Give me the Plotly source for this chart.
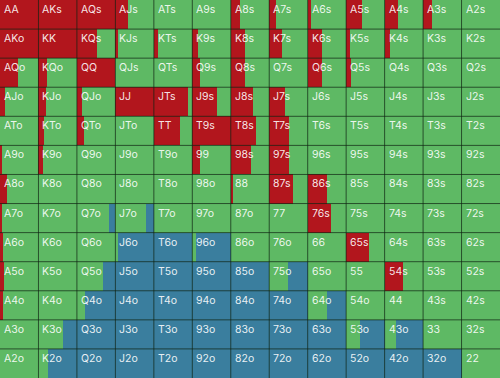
import plotly.graph_objects as go

ranks = ["A", "K", "Q", "J", "T", "9", "8", "7", "6", "5", "4", "3", "2"]

# raise (red) frequency per cell, rows = first rank, cols = second rank
raise_freq = [
    [1, 1, 1, 0.33, 0, 0, 0.24, 0.17, 0.08, 0.41, 0.35, 0.22, 0],
    [1, 1, 0.51, 0.08, 0.10, 0.14, 0.37, 0.32, 0.38, 0.10, 0.13, 0, 0],
    [0.48, 0.21, 1, 0, 0, 0.20, 0.37, 0, 0.36, 0.12, 0, 0, 0],
    [0.13, 0.19, 0.12, 1, 0.88, 0.63, 0.57, 0.41, 0, 0, 0, 0, 0],
    [0, 0.15, 0.18, 0, 0.68, 1, 0.65, 0.52, 0, 0, 0, 0, 0],
    [0.04, 0.11, 0, 0, 0, 0.20, 0.52, 0.52, 0, 0, 0, 0, 0],
    [0.17, 0, 0, 0, 0, 0, 0.07, 0.61, 0.49, 0, 0, 0, 0],
    [0.06, 0, 0, 0, 0, 0, 0, 0, 0.61, 0, 0, 0, 0],
    [0.07, 0, 0, 0, 0, 0, 0, 0, 0, 0.60, 0, 0, 0],
    [0.10, 0, 0, 0, 0, 0, 0, 0, 0, 0, 0.48, 0, 0],
    [0.08, 0, 0, 0, 0, 0, 0, 0, 0, 0, 0, 0, 0],
    [0, 0, 0, 0, 0, 0, 0, 0, 0, 0, 0, 0, 0],
    [0, 0, 0, 0, 0, 0, 0, 0, 0, 0, 0, 0, 0],
]

# fold (blue) frequency per cell
fold_freq = [
    [0] * 13,
    [0] * 13,
    [0] * 13,
    [0] * 13,
    [0] * 13,
    [0] * 13,
    [0] * 13,
    [0, 0, 0.17, 0.20, 0, 0, 0, 0, 0, 0, 0, 0, 0],
    [0, 0, 0, 0.92, 1, 0.90, 0, 0, 0, 0, 0, 0, 0],
    [0, 0, 0.33, 1, 1, 1, 1, 0.50, 0, 0, 0, 0, 0],
    [0, 0, 0.79, 1, 1, 1, 1, 1, 0.51, 0, 0, 0, 0],
    [0, 0.36, 1, 1, 1, 1, 1, 1, 1, 0.65, 0.70, 0, 0],
    [0, 0.75, 1, 1, 1, 1, 1, 1, 1, 1, 1, 1, 0],
]

RED = "#B2161D"
GREEN = "#5EB964"
BLUE = "#3A7E9E"

n = len(ranks)


def hand_label(i, j):
    if i == j:
        return ranks[i] + ranks[j]
    if j > i:
        return ranks[i] + ranks[j] + "s"
    return ranks[j] + ranks[i] + "o"


ys, rx, rb, cx, cb, fx, fb = [], [], [], [], [], [], []
for i in range(n):
    for j in range(n):
        r = raise_freq[i][j]
        f = fold_freq[i][j]
        c = max(0.0, 1 - r - f)
        ys.append(i + 0.5)
        rx.append(r)
        rb.append(j)
        cx.append(c)
        cb.append(j + r)
        fx.append(f)
        fb.append(j + r + c)

fig = go.Figure()
for name, xv, bv, col in [("Raise", rx, rb, RED), ("Call", cx, cb, GREEN), ("Fold", fx, fb, BLUE)]:
    fig.add_trace(go.Bar(
        x=xv, base=bv, y=ys, orientation="h", width=1,
        marker=dict(color=col, line=dict(width=0)),
        name=name, showlegend=False, hoverinfo="skip",
    ))

# grid lines at cell boundaries
gx, gy = [], []
for k in range(1, n):
    gx += [k, k, None]
    gy += [0, n, None]
    gx += [0, n, None]
    gy += [k, k, None]
fig.add_trace(go.Scatter(
    x=gx, y=gy, mode="lines",
    line=dict(color="rgba(15,35,18,0.7)", width=1),
    showlegend=False, hoverinfo="skip",
))

annotations = []
for i in range(n):
    for j in range(n):
        annotations.append(dict(
            x=j, y=i, xref="x", yref="y", text=hand_label(i, j),
            showarrow=False, xanchor="left", yanchor="top",
            xshift=2, yshift=-1,
            font=dict(family="Inter, Roboto, sans-serif", size=10.5, color="rgba(255,255,255,0.9)"),
        ))

fig.update_layout(
    width=500, height=378,
    margin=dict(l=0, r=0, t=0, b=0),
    paper_bgcolor="#1b2a1c",
    plot_bgcolor="#1b2a1c",
    barmode="overlay",
    bargap=0,
    annotations=annotations,
    xaxis=dict(range=[0, n], showgrid=False, zeroline=False, showticklabels=False, fixedrange=True),
    yaxis=dict(range=[n, 0], showgrid=False, zeroline=False, showticklabels=False, fixedrange=True),
)

fig.write_html(
    "out.html",
    config={"displayModeBar": False},
    post_script="document.body.style.margin='0';document.body.style.padding='0';document.body.style.overflow='hidden';",
)
